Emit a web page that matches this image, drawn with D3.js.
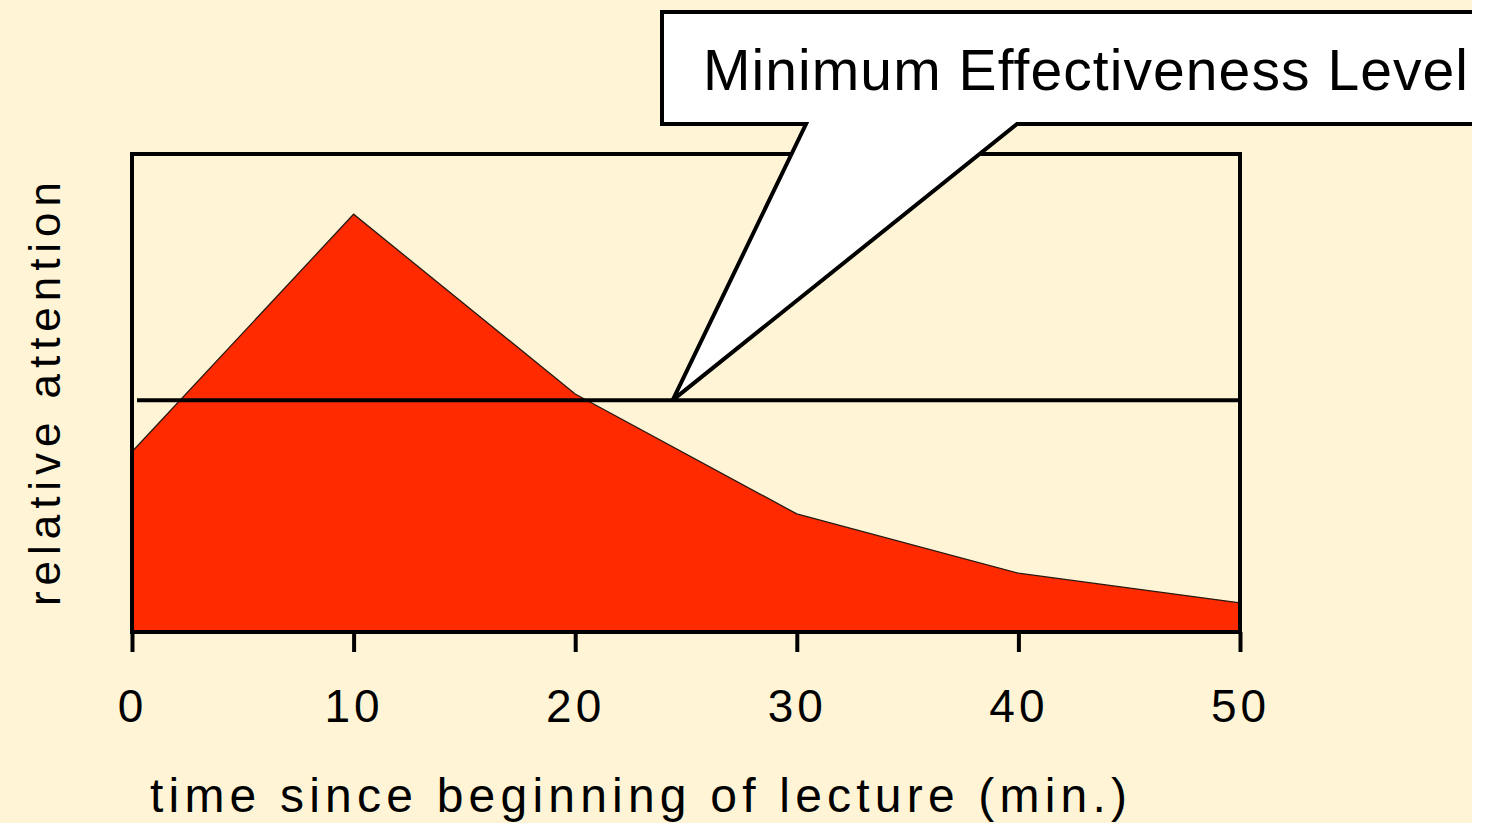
<!DOCTYPE html>
<html>
<head>
<meta charset="utf-8">
<script src="https://cdn.jsdelivr.net/npm/d3@7"></script>
<style>
  body { margin: 0; background: #fff; }
  text { font-family: "Liberation Sans", Arial, sans-serif; fill: #000; }
</style>
</head>
<body>
<svg id="svg"></svg>
<script>
// time since beginning of lecture (min.) vs relative attention
const minutes = [0, 10, 20, 30, 40, 50];
const attention = [37.7, 87.4, 49.8, 24.7, 12.3, 6.1];
const minLevel = 48.5;
const xTicks = [0, 10, 20, 30, 40, 50];
const calloutText = 'Minimum Effectiveness Level';
const calloutAt = 24.4;

const W = 1488, H = 823;
const svg = d3.select('#svg').attr('width', W).attr('height', H);

svg.append('rect')
  .attr('width', 1472).attr('height', H)
  .attr('fill', '#fff5d6');

const x = d3.scaleLinear().domain([0, 50]).range([132, 1240]);
const y = d3.scaleLinear().domain([0, 100]).range([632, 154]);

const pts = minutes.map((m, i) => [m, attention[i]]);

svg.append('path')
  .datum(pts)
  .attr('d', d3.area().x(d => x(d[0])).y0(y(0)).y1(d => y(d[1])))
  .attr('fill', '#ff2a00');

svg.append('path')
  .datum(pts)
  .attr('d', d3.line().x(d => x(d[0])).y(d => y(d[1])))
  .attr('fill', 'none')
  .attr('stroke', '#2a1a10')
  .attr('stroke-width', 1.3);

// threshold line
svg.append('line')
  .attr('x1', x(0) + 5).attr('x2', x(50))
  .attr('y1', y(minLevel)).attr('y2', y(minLevel))
  .attr('stroke', '#000').attr('stroke-width', 4);

// frame
svg.append('rect')
  .attr('x', x(0)).attr('y', y(100))
  .attr('width', x(50) - x(0)).attr('height', y(0) - y(100))
  .attr('fill', 'none').attr('stroke', '#000').attr('stroke-width', 4);

// x axis
const ax = svg.append('g')
  .attr('transform', `translate(0,${y(0)})`)
  .call(d3.axisBottom(x).tickValues(xTicks).tickSize(20).tickSizeOuter(0));
ax.select('.domain').remove();
ax.selectAll('.tick line').attr('stroke', '#000').attr('stroke-width', 4);
ax.selectAll('.tick text')
  .attr('y', 90).attr('dy', 0)
  .style('font-family', '"Liberation Sans", Arial, sans-serif')
  .style('font-size', '46px')
  .style('letter-spacing', '4px')
  .attr('fill', '#000');

svg.append('text')
  .attr('x', 150).attr('y', 812)
  .attr('textLength', 977).attr('lengthAdjust', 'spacing')
  .style('font-size', '48px')
  .text('time since beginning of lecture (min.)');

svg.append('text')
  .attr('transform', 'translate(60,606) rotate(-90)')
  .attr('textLength', 424).attr('lengthAdjust', 'spacing')
  .style('font-size', '44px')
  .text('relative attention');

// callout
const tipX = x(calloutAt), tipY = y(minLevel);
const callout = [
  [662, 12], [1500, 12], [1500, 124], [1017, 124],
  [tipX, tipY], [806, 124], [662, 124]
];
svg.append('path')
  .attr('d', d3.line()(callout) + 'Z')
  .attr('fill', '#fff')
  .attr('stroke', '#000').attr('stroke-width', 4)
  .attr('stroke-linejoin', 'miter');

svg.append('text')
  .attr('x', 703).attr('y', 90)
  .attr('textLength', 765).attr('lengthAdjust', 'spacing')
  .style('font-size', '57px')
  .text(calloutText);

// page beyond cream is white
svg.append('rect')
  .attr('x', 1472).attr('width', W - 1472).attr('height', H)
  .attr('fill', '#fff');
</script>
</body>
</html>
